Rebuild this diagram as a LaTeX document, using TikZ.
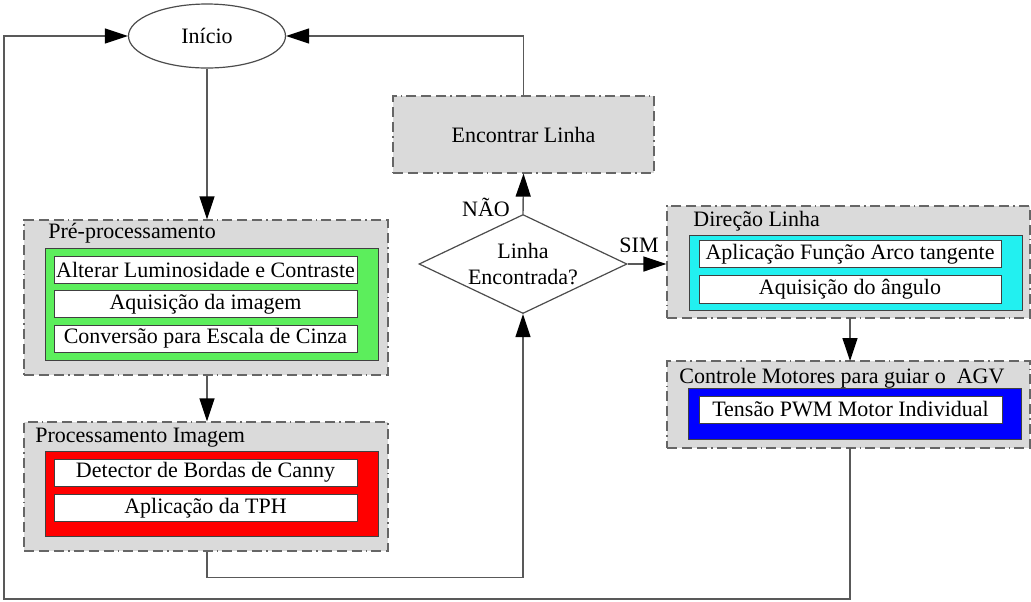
\documentclass[tikz,border=0pt]{standalone}
\usepackage{fontspec}
\setmainfont{Liberation Serif}
\usetikzlibrary{positioning,shapes.geometric,arrows.meta}

\definecolor{cinza}{HTML}{DADADA}
\definecolor{verde}{HTML}{5CEE5C}
\definecolor{vermelho}{HTML}{FF0000}
\definecolor{ciano}{HTML}{22F0F0}
\definecolor{azul}{HTML}{0000FF}

\tikzset{
  every node/.style={font=\fontsize{11}{13}\selectfont},
  grupo/.style={draw=black!60, fill=cinza, line width=0.6pt,
    dash pattern=on 5pt off 2.5pt on 5pt off 2.5pt on 5pt off 2pt on 0.8pt off 2pt,
    minimum width=182pt, inner sep=0},
  painel/.style={draw=black!75, line width=0.5pt, minimum width=166.5pt, inner sep=0},
  caixa/.style={draw=black!75, fill=white, line width=0.5pt, minimum width=151.5pt, minimum height=13.5pt, inner sep=0},
  titulo/.style={anchor=west, inner sep=0},
  seta/.style={draw=black!65, line width=0.7pt, -{Triangle[length=11.5pt,width=7.5pt,color=black]}}
}

\begin{document}
\begin{tikzpicture}[x=0.5pt,y=-0.5pt]
\useasboundingbox (0,0) rectangle (1031,601);

\node[ellipse, draw=black!70, line width=0.6pt, minimum width=78.5pt, minimum height=32pt] (inicio) at (207,36) {Início};

% pre-processamento
\node[grupo, minimum height=77.5pt] (pre) at (206,297.5) {};
\node[titulo] (tpre) at (48,233) {Pré-processamento};
\node[painel, fill=verde, minimum height=56pt] (pverde) at (211.5,304) {};
\foreach \y/\nome/\texto in {269.5/lum/Alterar Luminosidade e Contraste, 304/aqui/Aquisição da imagem, 338.5/conv/Conversão para Escala de Cinza} {
    \node[caixa] (\nome) at (205.5,\y) {\texto};
}

% processamento
\node[grupo, minimum height=64.5pt] (proc) at (206,486.5) {};
\node[titulo] (tproc) at (35,438) {Processamento Imagem};
\node[painel, fill=vermelho, minimum height=42.5pt] (pverm) at (211.5,493.5) {};
\foreach \y/\nome/\texto in {472.5/canny/Detector de Bordas de Canny, 508/tph/Aplicação da TPH} {
    \node[caixa] (\nome) at (205.5,\y) {\texto};
}

% decisao
\node[grupo, minimum width=130.5pt, minimum height=38.5pt] (encontrar) at (523.5,134.5) {Encontrar Linha};
\node[diamond, draw=black!70, line width=0.6pt, fill=white, minimum width=104pt, minimum height=49.5pt, inner sep=0] (decisao) at (523,264) {};
\node[align=center, inner sep=0] (tdec) at (decisao) {Linha\\Encontrada?};
\node (nao) at (486,207) {NÃO};
\node (sim) at (639,245) {SIM};

% direcao
\node[grupo, minimum width=181.5pt, minimum height=56pt] (direcao) at (848.5,262) {};
\node[titulo] (tdir) at (693,221) {Direção Linha};
\node[painel, fill=ciano, minimum height=37.5pt] (pciano) at (855.5,272.5) {};
\node[caixa, minimum width=151pt, minimum height=13.75pt] (arco) at (850,254) {Aplicação Função Arco tangente};
\node[caixa, minimum width=151pt, minimum height=13.75pt] (angulo) at (850,289.5) {Aquisição do ângulo};

% controle
\node[grupo, minimum width=181.5pt, minimum height=43.5pt] (controle) at (848.5,404.5) {};
\node[titulo] (tcont) at (679,378) {Controle Motores para guiar o \ AGV};
\node[painel, fill=azul, minimum height=25.5pt] (pazul) at (854.5,413.5) {};
\node[caixa] (pwm) at (850.5,409.5) {Tensão PWM Motor Individual};

\coordinate (canto) at (4,599);

\draw[seta] (inicio.south) -- (inicio.south |- pre.north);
\draw[seta] (inicio.south |- pre.south) -- (inicio.south |- proc.north);
\draw[seta] (inicio.south |- proc.south) -- ++(0,26) -| (decisao.south);
\draw[seta] (decisao.north) -- (encontrar.south);
\draw[seta] (encontrar.north) |- (inicio.east);
\draw[seta] (decisao.east) -- (direcao.west |- decisao.east);
\draw[seta] (850,318) -- (850,361);
\draw[seta] (850,448) |- (canto) |- (inicio.west);
\end{tikzpicture}
\end{document}
